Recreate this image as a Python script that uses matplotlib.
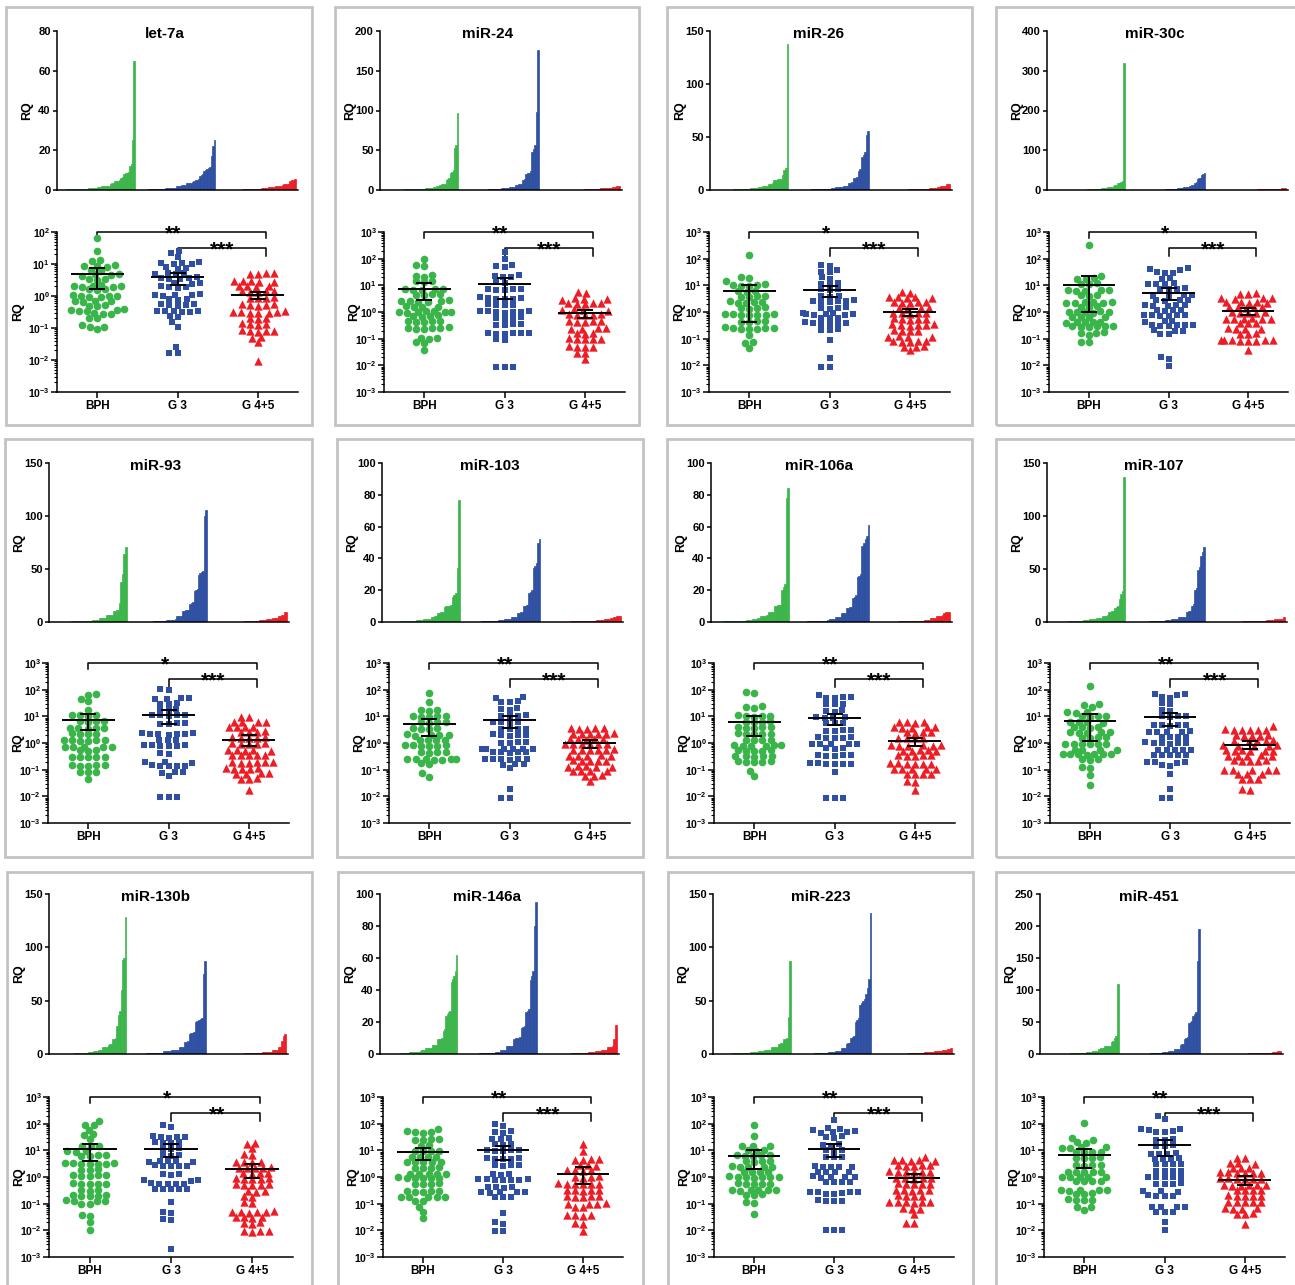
import numpy as np
import matplotlib
matplotlib.use('Agg')
import matplotlib.pyplot as plt
import matplotlib.transforms as mtransforms
from matplotlib.patches import Rectangle
from matplotlib.ticker import LogLocator, FixedLocator, NullFormatter, FuncFormatter, MultipleLocator

plt.rcParams.update({
    'font.family': 'Liberation Sans',
    'font.weight': 'bold',
    'mathtext.fontset': 'custom',
    'mathtext.rm': 'Liberation Sans:bold',
    'mathtext.it': 'Liberation Sans:bold',
    'mathtext.bf': 'Liberation Sans:bold',
    'axes.linewidth': 1.1,
})

# ── groups ────────────────────────────────────────────────────────────────────
groups = ['BPH', 'G 3', 'G 4+5']
colors = ['#3AB54A', '#2E4FA2', '#EE1C25']
markers = ['o', 's', '^']
msizes = [5.5, 5.0, 6.0]

# ── RQ values per miRNA and group ────────────────────────────────────────────
let7a_bph = [65, 25, 13, 12, 9.2, 8.8, 8.4, 8.0, 6.5, 6.1, 4.9, 4.7, 4.5, 4.3, 3.5, 3.4, 3.2,
             2.2, 2.1, 2.1, 2.0, 1.9, 1.9, 1.7, 1.6, 1.5, 1.05, 1.0, 1.0, 0.97, 0.95, 0.92,
             0.72, 0.70, 0.68, 0.66, 0.52, 0.50, 0.48, 0.38, 0.37, 0.36, 0.35, 0.34, 0.29,
             0.28, 0.27, 0.21, 0.20, 0.12, 0.11, 0.11, 0.09]
let7a_g3 = [25, 22, 17, 11.5, 11, 10.5, 10.2, 9.8, 7.8, 7.5, 7.2, 5.3, 5.1, 4.9, 4.7, 3.8, 3.7,
            3.6, 3.5, 3.4, 2.6, 2.5, 2.4, 2.0, 1.9, 1.9, 1.8, 1.15, 1.1, 1.1, 1.05, 1.0, 0.8,
            0.78, 0.75, 0.56, 0.55, 0.54, 0.52, 0.5, 0.35, 0.34, 0.33, 0.33, 0.32, 0.31, 0.24,
            0.22, 0.15, 0.11, 0.025, 0.017, 0.017]
let7a_g45 = [5.3, 5.1, 4.9, 4.7, 3.0, 2.9, 2.9, 2.8, 2.7, 2.1, 2.0, 2.0, 1.9, 1.45, 1.4, 1.4,
             1.35, 1.3, 0.9, 0.88, 0.86, 0.84, 0.56, 0.55, 0.54, 0.52, 0.5, 0.33, 0.32, 0.31,
             0.31, 0.3, 0.3, 0.29, 0.21, 0.2, 0.19, 0.14, 0.13, 0.13, 0.12, 0.085, 0.082, 0.08,
             0.078, 0.075, 0.052, 0.048, 0.036, 0.0095]

mir24_bph = [97, 57, 53, 25, 23, 21, 15, 14, 13, 7.5, 7.2, 7.0, 6.8, 6.6, 4.8, 4.6, 4.4, 4.2,
             2.7, 2.6, 2.5, 2.5, 2.4, 2.3, 1.7, 1.6, 1.6, 1.5, 1.08, 1.05, 1.02, 1.0, 0.98, 0.96,
             0.93, 0.74, 0.71, 0.69, 0.66, 0.48, 0.46, 0.45, 0.44, 0.42, 0.27, 0.26, 0.25, 0.25,
             0.24, 0.23, 0.11, 0.105, 0.1, 0.072, 0.068, 0.039]
mir24_g3 = [176, 98, 57, 52, 48, 24, 22, 21, 20, 13.5, 12.5, 7.5, 7.2, 7.0, 6.8, 6.5, 3.5, 3.4,
            3.3, 3.2, 3.1, 3.0, 2.0, 1.9, 1.9, 1.8, 1.1, 1.08, 1.05, 1.03, 1.0, 0.98, 0.95, 0.63,
            0.61, 0.59, 0.57, 0.36, 0.35, 0.33, 0.32, 0.17, 0.165, 0.16, 0.16, 0.155, 0.15,
            0.095, 0.088, 0.009, 0.009, 0.009]
mir24_g45 = [5.5, 5.0, 3.3, 3.2, 3.0, 2.9, 2.2, 2.1, 2.1, 2.0, 2.0, 1.25, 1.2, 1.15, 1.1, 0.84,
             0.82, 0.8, 0.78, 0.76, 0.47, 0.46, 0.45, 0.44, 0.43, 0.26, 0.25, 0.24, 0.23, 0.17,
             0.16, 0.155, 0.105, 0.1, 0.1, 0.098, 0.095, 0.052, 0.05, 0.049, 0.048, 0.03, 0.028,
             0.017]

mir26_bph = [138, 21, 19, 14, 10.8, 10.4, 10.0, 9.7, 9.4, 6.3, 6.0, 5.8, 4.1, 4.0, 3.8, 3.7,
             2.5, 2.4, 2.3, 2.2, 2.1, 1.5, 1.45, 1.4, 1.35, 0.86, 0.84, 0.82, 0.8, 0.78, 0.76,
             0.74, 0.48, 0.46, 0.44, 0.42, 0.27, 0.26, 0.26, 0.25, 0.24, 0.24, 0.23, 0.14,
             0.072, 0.068, 0.045]
mir26_g3 = [56, 52, 36, 33, 31, 20, 18, 12, 11.5, 11, 7.3, 7.0, 6.7, 4.0, 3.9, 3.8, 2.7, 2.6,
            2.5, 2.5, 2.4, 2.3, 1.5, 1.45, 1.4, 1.35, 0.9, 0.88, 0.86, 0.84, 0.82, 0.8, 0.78,
            0.62, 0.6, 0.58, 0.41, 0.4, 0.39, 0.38, 0.37, 0.36, 0.23, 0.22, 0.21, 0.087, 0.019,
            0.009, 0.009]
mir26_g45 = [5.8, 5.3, 3.7, 3.6, 3.5, 3.4, 3.3, 2.4, 2.35, 2.3, 2.25, 2.2, 1.45, 1.4, 1.4, 1.35,
             0.93, 0.92, 0.9, 0.88, 0.86, 0.58, 0.56, 0.55, 0.54, 0.52, 0.35, 0.34, 0.33, 0.33,
             0.32, 0.31, 0.21, 0.2, 0.2, 0.19, 0.125, 0.12, 0.12, 0.115, 0.084, 0.082, 0.08,
             0.078, 0.076, 0.053, 0.05, 0.049, 0.036]

mir30c_bph = [320, 22, 19, 18, 17, 12, 11.5, 11, 6.8, 6.6, 6.5, 6.3, 6.2, 4.3, 4.2, 4.1, 2.4,
              2.35, 2.3, 2.25, 2.2, 2.2, 1.65, 1.6, 1.55, 1.05, 1.02, 1.0, 0.98, 0.96, 0.95,
              0.67, 0.66, 0.64, 0.63, 0.44, 0.43, 0.42, 0.41, 0.4, 0.3, 0.3, 0.29, 0.29, 0.28,
              0.28, 0.18, 0.17, 0.165, 0.135, 0.078, 0.074]
mir30c_g3 = [43, 41, 38, 31, 30, 28, 19, 17, 12, 11.5, 11.2, 11, 7.8, 7.6, 7.4, 7.2, 4.3, 4.2,
             4.1, 4.0, 2.8, 2.75, 2.7, 2.6, 1.85, 1.8, 1.8, 1.75, 1.7, 1.2, 1.15, 1.15, 1.1,
             0.78, 0.76, 0.75, 0.74, 0.73, 0.72, 0.46, 0.45, 0.44, 0.33, 0.33, 0.32, 0.32, 0.31,
             0.3, 0.21, 0.2, 0.19, 0.155, 0.145, 0.02, 0.018, 0.0095]
mir30c_g45 = [5.1, 4.9, 4.7, 3.4, 3.3, 3.3, 3.2, 2.4, 2.35, 2.3, 2.25, 2.2, 1.55, 1.52, 1.5, 1.48,
              1.45, 0.98, 0.96, 0.95, 0.94, 0.92, 0.58, 0.57, 0.56, 0.55, 0.55, 0.54, 0.4, 0.39,
              0.38, 0.25, 0.24, 0.24, 0.23, 0.16, 0.155, 0.15, 0.09, 0.089, 0.088, 0.087, 0.086,
              0.085, 0.084, 0.083, 0.036]

mir93_bph = [71, 64, 45, 38, 18, 11.5, 11, 10.8, 10.5, 6.9, 6.7, 6.5, 6.3, 3.8, 3.7, 3.6, 3.5,
             3.4, 2.3, 2.2, 2.2, 2.1, 1.32, 1.3, 1.27, 1.25, 1.22, 1.2, 0.72, 0.71, 0.7, 0.69,
             0.68, 0.55, 0.53, 0.51, 0.31, 0.3, 0.3, 0.29, 0.29, 0.15, 0.148, 0.145, 0.142, 0.14,
             0.083, 0.081, 0.079, 0.046]
mir93_g3 = [106, 100, 48, 47, 46, 44, 31, 30, 29, 19, 18, 17, 11.5, 11.2, 11, 10.8, 10.5, 5.5,
            5.4, 5.3, 5.2, 2.4, 2.3, 2.25, 2.2, 2.15, 2.1, 2.05, 1.35, 1.3, 1.25, 0.85, 0.83,
            0.82, 0.8, 0.79, 0.78, 0.41, 0.4, 0.2, 0.19, 0.18, 0.145, 0.142, 0.14, 0.138, 0.135,
            0.084, 0.081, 0.078, 0.06, 0.0095, 0.0095, 0.0095]
mir93_g45 = [9.8, 9.2, 6.4, 6.2, 6.1, 6.0, 4.1, 4.0, 3.95, 3.9, 2.7, 2.65, 2.6, 2.55, 1.65, 1.62,
             1.6, 1.58, 1.55, 0.98, 0.96, 0.95, 0.94, 0.92, 0.55, 0.54, 0.53, 0.52, 0.51, 0.36,
             0.355, 0.35, 0.345, 0.34, 0.2, 0.195, 0.19, 0.19, 0.185, 0.18, 0.115, 0.112, 0.11,
             0.108, 0.105, 0.074, 0.072, 0.07, 0.068, 0.048, 0.046, 0.045, 0.018]

mir103_bph = [77, 34, 18, 17, 16, 10.5, 10.2, 10, 9.8, 9.5, 6.2, 6.1, 5.9, 5.8, 3.6, 3.5, 3.45,
              3.4, 2.1, 2.05, 2.0, 1.95, 1.9, 1.35, 1.32, 1.28, 1.25, 0.83, 0.82, 0.81, 0.8,
              0.79, 0.78, 0.47, 0.46, 0.45, 0.44, 0.26, 0.26, 0.25, 0.25, 0.25, 0.24, 0.24, 0.175,
              0.165, 0.072, 0.055]
mir103_g3 = [52, 50, 37, 35, 34, 20, 19, 18, 11, 10.7, 10.3, 10, 6.2, 6.0, 5.9, 5.8, 3.4, 3.35,
             3.3, 3.25, 2.1, 2.05, 2.0, 1.95, 1.9, 1.1, 1.07, 1.03, 1.0, 0.62, 0.61, 0.6, 0.6,
             0.59, 0.58, 0.46, 0.455, 0.45, 0.445, 0.44, 0.26, 0.255, 0.25, 0.25, 0.245, 0.24,
             0.165, 0.16, 0.155, 0.115, 0.019, 0.009, 0.009]
mir103_g45 = [3.8, 3.6, 3.5, 3.4, 3.3, 2.3, 2.25, 2.2, 2.2, 2.15, 2.1, 1.45, 1.42, 1.4, 1.38,
              1.35, 0.93, 0.92, 0.91, 0.9, 0.89, 0.88, 0.58, 0.57, 0.56, 0.56, 0.55, 0.54, 0.34,
              0.335, 0.33, 0.325, 0.32, 0.225, 0.22, 0.22, 0.215, 0.21, 0.135, 0.132, 0.13,
              0.128, 0.125, 0.092, 0.09, 0.089, 0.088, 0.062, 0.06, 0.058, 0.039]

mir106a_bph = [84, 78, 24, 22, 20, 11, 10.7, 10.4, 10.1, 9.8, 6.6, 6.4, 6.2, 6.0, 4.1, 4.0, 3.9,
               3.8, 3.7, 2.3, 2.25, 2.2, 2.15, 2.1, 1.35, 1.32, 1.28, 1.25, 0.83, 0.82, 0.81,
               0.8, 0.79, 0.78, 0.54, 0.53, 0.52, 0.51, 0.5, 0.33, 0.325, 0.32, 0.315, 0.31,
               0.21, 0.205, 0.2, 0.195, 0.19, 0.09, 0.06]
mir106a_g3 = [61, 54, 52, 50, 48, 30, 29, 28, 17, 16, 15, 9.5, 9.2, 8.9, 8.6, 5.8, 5.6, 5.4,
              3.0, 2.95, 2.9, 2.85, 1.65, 1.62, 1.6, 1.58, 1.55, 0.93, 0.92, 0.9, 0.89, 0.88,
              0.65, 0.63, 0.61, 0.35, 0.345, 0.34, 0.335, 0.33, 0.175, 0.172, 0.17, 0.168, 0.165,
              0.162, 0.083, 0.009, 0.009, 0.009]
mir106a_g45 = [6.4, 6.2, 6.0, 5.8, 4.1, 4.0, 3.9, 3.8, 3.7, 2.6, 2.55, 2.5, 2.45, 1.55, 1.52, 1.5,
               1.48, 0.83, 0.82, 0.81, 0.8, 0.79, 0.78, 0.54, 0.53, 0.52, 0.51, 0.5, 0.35, 0.345,
               0.34, 0.335, 0.33, 0.175, 0.172, 0.17, 0.168, 0.165, 0.162, 0.108, 0.106, 0.105,
               0.104, 0.102, 0.071, 0.07, 0.069, 0.067, 0.036, 0.034, 0.018]

mir107_bph = [137, 29, 26, 22, 15, 14, 13.5, 10.5, 10.2, 9.9, 9.6, 6.2, 6.1, 5.9, 5.8, 4.0, 3.95,
              3.9, 3.8, 2.6, 2.55, 2.5, 2.45, 2.4, 1.65, 1.62, 1.58, 1.55, 0.93, 0.92, 0.91, 0.9,
              0.89, 0.88, 0.57, 0.56, 0.55, 0.54, 0.4, 0.4, 0.39, 0.39, 0.38, 0.38, 0.37, 0.26,
              0.25, 0.24, 0.125, 0.118, 0.063, 0.027]
mir107_g3 = [71, 66, 62, 52, 49, 32, 30, 17, 15.5, 10.5, 10.2, 9.9, 9.6, 4.9, 4.8, 4.7, 4.6, 4.5,
             2.7, 2.65, 2.6, 2.55, 2.5, 1.75, 1.72, 1.68, 1.65, 1.05, 1.03, 1.01, 0.99, 0.97,
             0.95, 0.57, 0.56, 0.55, 0.54, 0.53, 0.37, 0.365, 0.36, 0.355, 0.35, 0.2, 0.195,
             0.19, 0.185, 0.145, 0.14, 0.069, 0.019, 0.009, 0.009]
mir107_g45 = [4.3, 3.3, 3.2, 3.15, 3.1, 3.05, 3.0, 2.0, 1.95, 1.9, 1.85, 1.8, 1.25, 1.22, 1.2,
              1.18, 1.15, 0.83, 0.82, 0.8, 0.78, 0.77, 0.54, 0.53, 0.52, 0.52, 0.51, 0.5, 0.34,
              0.335, 0.33, 0.325, 0.32, 0.23, 0.225, 0.22, 0.215, 0.21, 0.1, 0.099, 0.098, 0.097,
              0.096, 0.07, 0.069, 0.068, 0.046, 0.045, 0.044, 0.019, 0.018]

mir130b_bph = [128, 90, 88, 60, 40, 37, 26, 15, 14.5, 14, 9.5, 9.2, 8.9, 6.8, 6.6, 6.4, 6.2, 3.4,
               3.35, 3.3, 3.2, 3.15, 3.1, 3.0, 1.95, 1.9, 1.85, 1.2, 1.17, 1.15, 1.13, 1.1, 0.58,
               0.57, 0.56, 0.55, 0.54, 0.33, 0.32, 0.31, 0.21, 0.205, 0.2, 0.195, 0.19, 0.135,
               0.13, 0.128, 0.125, 0.1, 0.098, 0.037, 0.035, 0.02, 0.01]
mir130b_g3 = [87, 75, 34, 33, 32, 31, 30, 21, 20, 19.5, 19, 12, 11.5, 11, 6.8, 6.5, 6.3, 4.1,
              4.0, 3.9, 3.8, 3.7, 2.7, 2.65, 2.6, 2.55, 2.5, 1.3, 1.26, 1.22, 0.78, 0.75, 0.72,
              0.58, 0.57, 0.56, 0.55, 0.54, 0.37, 0.365, 0.36, 0.355, 0.35, 0.12, 0.047, 0.045,
              0.027, 0.025, 0.002]
mir130b_g45 = [19, 17, 12, 7.0, 6.8, 3.7, 3.6, 3.55, 3.5, 2.3, 2.25, 2.2, 2.15, 2.1, 1.45, 1.42,
               1.38, 1.35, 0.9, 0.88, 0.87, 0.86, 0.84, 0.54, 0.53, 0.52, 0.51, 0.5, 0.3, 0.29,
               0.28, 0.195, 0.185, 0.12, 0.11, 0.051, 0.05, 0.049, 0.048, 0.047, 0.046, 0.033,
               0.032, 0.031, 0.03, 0.02, 0.019, 0.018, 0.0097, 0.0095, 0.0093, 0.009]

mir146a_bph = [62, 52, 49, 47, 45, 27, 26, 25, 24, 15.5, 14.5, 9.8, 9.6, 9.4, 9.2, 5.8, 5.7, 5.5,
               5.4, 3.7, 3.65, 3.6, 3.55, 3.5, 2.3, 2.25, 2.2, 2.15, 1.35, 1.32, 1.3, 1.28, 1.25,
               0.96, 0.95, 0.94, 0.93, 0.92, 0.91, 0.58, 0.57, 0.56, 0.55, 0.3, 0.295, 0.29,
               0.285, 0.28, 0.185, 0.182, 0.18, 0.178, 0.175, 0.13, 0.122, 0.074, 0.049, 0.03]
mir146a_g3 = [95, 80, 52, 49, 46, 28, 27, 26, 17.5, 17, 16.5, 10.5, 10.2, 10, 9.8, 9.6, 5.1, 5.0,
              4.9, 4.8, 4.7, 2.8, 2.75, 2.7, 2.65, 1.3, 1.26, 1.22, 0.83, 0.82, 0.81, 0.8, 0.79,
              0.78, 0.77, 0.43, 0.42, 0.41, 0.4, 0.28, 0.275, 0.27, 0.265, 0.26, 0.185, 0.18,
              0.175, 0.045, 0.02, 0.018, 0.0095, 0.0095]
mir146a_g45 = [18, 9.5, 4.7, 4.6, 4.5, 4.4, 2.8, 2.7, 2.6, 1.85, 1.8, 1.78, 1.75, 1.05, 1.02, 0.98,
               0.95, 0.58, 0.57, 0.56, 0.55, 0.54, 0.53, 0.33, 0.325, 0.32, 0.315, 0.31, 0.195,
               0.19, 0.19, 0.185, 0.18, 0.105, 0.1, 0.1, 0.098, 0.076, 0.072, 0.037, 0.036, 0.036,
               0.035, 0.019, 0.017, 0.0095]

mir223_bph = [87, 35, 15, 14.5, 14, 10.5, 10, 9.6, 6.8, 6.6, 6.5, 6.3, 6.1, 4.1, 4.0, 3.9, 3.8,
              2.5, 2.45, 2.4, 2.35, 2.3, 1.6, 1.57, 1.53, 1.5, 1.05, 1.03, 1.01, 1.0, 0.99, 0.97,
              0.95, 0.58, 0.57, 0.56, 0.55, 0.54, 0.33, 0.325, 0.32, 0.32, 0.315, 0.31, 0.23,
              0.22, 0.21, 0.115, 0.105, 0.042]
mir223_g3 = [132, 70, 62, 56, 52, 50, 48, 46, 34, 32, 30, 17, 16, 15, 10.5, 10, 9.6, 5.8, 5.6,
             5.4, 2.5, 2.45, 2.4, 2.35, 2.3, 1.6, 1.57, 1.53, 1.5, 1.05, 1.02, 1.0, 0.98, 0.95,
             0.67, 0.66, 0.64, 0.63, 0.28, 0.275, 0.27, 0.265, 0.245, 0.24, 0.235, 0.135, 0.13,
             0.128, 0.125, 0.01, 0.01, 0.01]
mir223_g45 = [5.5, 4.4, 4.3, 4.2, 4.1, 4.0, 2.8, 2.75, 2.7, 2.65, 2.6, 1.62, 1.6, 1.57, 1.55, 1.52,
              1.5, 0.93, 0.92, 0.9, 0.88, 0.87, 0.58, 0.57, 0.56, 0.55, 0.54, 0.33, 0.325, 0.32,
              0.315, 0.31, 0.205, 0.2, 0.198, 0.195, 0.118, 0.117, 0.115, 0.114, 0.112, 0.11,
              0.067, 0.065, 0.063, 0.04, 0.019, 0.019]

mir451_bph = [109, 28, 25, 20, 19, 13, 12.8, 12.4, 12, 9.0, 8.8, 8.6, 8.4, 5.4, 5.3, 5.1, 5.0,
              2.8, 2.75, 2.7, 2.65, 1.6, 1.57, 1.55, 1.52, 1.5, 1.03, 1.01, 1.0, 0.99, 0.97,
              0.72, 0.71, 0.7, 0.69, 0.33, 0.325, 0.32, 0.315, 0.31, 0.245, 0.24, 0.235, 0.145,
              0.142, 0.14, 0.138, 0.077, 0.074, 0.057]
mir451_g3 = [195, 145, 65, 62, 60, 52, 50, 48, 26, 25, 24, 15.5, 15, 14.5, 7.8, 7.6, 7.4, 7.2,
             5.0, 4.9, 4.8, 4.7, 3.1, 3.05, 3.0, 2.95, 1.75, 1.72, 1.68, 1.65, 1.03, 1.01, 1.0,
             0.99, 0.97, 0.58, 0.57, 0.55, 0.54, 0.3, 0.29, 0.28, 0.205, 0.2, 0.2, 0.195, 0.077,
             0.076, 0.074, 0.073, 0.05, 0.049, 0.048, 0.02, 0.01]
mir451_g45 = [5.3, 5.1, 3.4, 3.3, 3.2, 2.25, 2.2, 2.15, 1.5, 1.48, 1.46, 1.44, 1.42, 1.4, 0.9,
              0.88, 0.87, 0.86, 0.85, 0.84, 0.5, 0.495, 0.49, 0.485, 0.48, 0.475, 0.33, 0.325,
              0.32, 0.315, 0.205, 0.2, 0.2, 0.198, 0.195, 0.118, 0.116, 0.115, 0.114, 0.112,
              0.067, 0.066, 0.065, 0.064, 0.043, 0.042, 0.041, 0.018]

# mean with SEM range (mean, low end, high end) per group, as drawn
let7a_sem = [(4.7, 1.6, 7.7), (3.8, 2.2, 5.2), (1.1, 0.78, 1.38)]
mir24_sem = [(7.6, 2.9, 12.3), (11, 3.1, 18.7), (0.88, 0.6, 1.15)]
mir26_sem = [(6.2, 0.43, 10.5), (6.8, 3.6, 9.7), (1.0, 0.7, 1.3)]
mir30c_sem = [(10, 1.0, 22), (5.2, 2.7, 8.1), (1.1, 0.75, 1.45)]
mir93_sem = [(7.5, 3.0, 11.8), (11.5, 5.3, 16.6), (1.32, 0.75, 1.95)]
mir103_sem = [(5.2, 1.9, 8.0), (7.0, 3.5, 10), (1.0, 0.65, 1.3)]
mir106a_sem = [(6.3, 1.9, 10), (8.7, 4.7, 12.4), (1.15, 0.75, 1.6)]
mir107_sem = [(6.5, 1.2, 12.6), (9.2, 4.5, 13.3), (0.87, 0.6, 1.15)]
mir130b_sem = [(11, 3.9, 18), (11.5, 5.6, 16.7), (2.05, 0.9, 3.2)]
mir146a_sem = [(8.7, 4.5, 12.6), (10, 4.5, 14), (1.35, 0.53, 2.35)]
mir223_sem = [(6.1, 2.0, 10), (11.5, 5.6, 17.8), (0.92, 0.65, 1.3)]
mir451_sem = [(6.9, 2.2, 11), (15.5, 5.9, 25), (0.75, 0.49, 1.05)]

# significance: (BPH vs G4+5, G3 vs G4+5)
let7a_sig = ('**', '***')
mir24_sig = ('**', '***')
mir26_sig = ('*', '***')
mir30c_sig = ('*', '***')
mir93_sig = ('*', '***')
mir103_sig = ('**', '***')
mir106a_sig = ('**', '***')
mir107_sig = ('**', '***')
mir130b_sig = ('*', '**')
mir146a_sig = ('**', '***')
mir223_sig = ('**', '***')
mir451_sig = ('**', '***')

# ── layout (pixels) ──────────────────────────────────────────────────────────
W, H = 1295, 1285
ROWS = [
    dict(box=(7, 425), bar=(31, 190), sc=(232, 392), title=38),
    dict(box=(439, 857), bar=(463, 622), sc=(663, 823), title=470),
    dict(box=(872, 1300), bar=(894, 1054), sc=(1097, 1257), title=901),
]

# name, data, sem, sig, bar ymax, bar step, top decade, row, box x, bar x, scatter x
panels = [
    ('let-7a', (let7a_bph, let7a_g3, let7a_g45), let7a_sem, let7a_sig, 80, 20, 2, 0,
     (6, 312), (57, 298), (57, 298)),
    ('miR-24', (mir24_bph, mir24_g3, mir24_g45), mir24_sem, mir24_sig, 200, 50, 3, 0,
     (335, 639), (380, 622), (384, 625)),
    ('miR-26', (mir26_bph, mir26_g3, mir26_g45), mir26_sem, mir26_sig, 150, 50, 3, 0,
     (667, 972), (710, 952), (709, 950)),
    ('miR-30c', (mir30c_bph, mir30c_g3, mir30c_g45), mir30c_sem, mir30c_sig, 400, 100, 3, 0,
     (996, 1310), (1047, 1288), (1049, 1288)),
    ('miR-93', (mir93_bph, mir93_g3, mir93_g45), mir93_sem, mir93_sig, 150, 50, 3, 1,
     (5, 312), (49, 289), (48, 289)),
    ('miR-103', (mir103_bph, mir103_g3, mir103_g45), mir103_sem, mir103_sig, 100, 20, 3, 1,
     (337, 643), (382, 623), (389, 630)),
    ('miR-106a', (mir106a_bph, mir106a_g3, mir106a_g45), mir106a_sem, mir106a_sig, 100, 20, 3, 1,
     (667, 972), (711, 952), (714, 955)),
    ('miR-107', (mir107_bph, mir107_g3, mir107_g45), mir107_sem, mir107_sig, 150, 50, 3, 1,
     (996, 1310), (1047, 1287), (1050, 1290)),
    ('miR-130b', (mir130b_bph, mir130b_g3, mir130b_g45), mir130b_sem, mir130b_sig, 150, 50, 3, 2,
     (7, 312), (49, 288), (49, 293)),
    ('miR-146a', (mir146a_bph, mir146a_g3, mir146a_g45), mir146a_sem, mir146a_sig, 100, 20, 3, 2,
     (338, 643), (380, 619), (383, 623)),
    ('miR-223', (mir223_bph, mir223_g3, mir223_g45), mir223_sem, mir223_sig, 150, 50, 3, 2,
     (668, 973), (713, 954), (714, 954)),
    ('miR-451', (mir451_bph, mir451_g3, mir451_g45), mir451_sem, mir451_sig, 250, 50, 3, 2,
     (996, 1310), (1040, 1283), (1044, 1285)),
]

fig = plt.figure(figsize=(W / 100, H / 100), dpi=100)


def px_axes(l, t, r, b):
    return fig.add_axes([l / W, 1 - b / H, (r - l) / W, (b - t) / H])


def swarm(vals, px_x, px_y, dx=8.2, dy=5.5, maxw=27.0):
    """beeswarm offsets (category units); points may overlap a bit vertically,
    so neighbouring values interleave like GraphPad's column scatter.
    Width is capped at +-maxw pixels."""
    y = np.log10(vals) * px_y
    order = np.argsort(y)
    xs = np.zeros(len(vals))
    px, py = [], []
    grid = np.linspace(-maxw, maxw, 29)
    for i in order:
        iv = []
        for xj, yj in zip(px, py):
            d = abs(y[i] - yj) / dy
            if d < 1:
                h = dx * np.sqrt(1 - d * d)
                iv.append((xj - h, xj + h))
        cands = sorted([0.0] + [a for a, b in iv] + [b for a, b in iv], key=abs)
        best = None
        for c in cands:
            if abs(c) <= maxw and all(not (a + 1e-6 < c < b - 1e-6) for a, b in iv):
                best = c
                break
        if best is None:
            # no free spot inside the column: take the least crowded one
            cost = [sum(max(0.0, min(b - c, c - a)) for a, b in iv) for c in grid]
            best = grid[int(np.argmin(cost))]
        xs[i] = best
        px.append(best)
        py.append(y[i])
    return xs / px_x


for (name, data, sem, sig, ymax, ystep, topdec, r, boxx, barx, scx) in panels:
    row = ROWS[r]

    # panel frame
    fig.patches.append(Rectangle((boxx[0] / W, 1 - row['box'][1] / H),
                                 (boxx[1] - boxx[0]) / W, (row['box'][1] - row['box'][0]) / H,
                                 transform=fig.transFigure, fill=False,
                                 edgecolor='#C3C3C3', lw=2.0))

    # ── sorted RQ bars ──
    ax = px_axes(barx[0], row['bar'][0], barx[1], row['bar'][1])
    for g, vals in enumerate(data):
        v = np.sort(vals)
        n = len(v)
        w = 0.97 / n
        ax.bar(g + np.arange(n) * w, v, width=w, align='edge', color=colors[g],
               edgecolor=colors[g], lw=0.5)
    ax.set_xlim(0, 3)
    ax.set_ylim(0, ymax)
    ax.yaxis.set_major_locator(MultipleLocator(ystep))
    ax.set_xticks([])
    for s in ('top', 'right'):
        ax.spines[s].set_visible(False)
    ax.tick_params(axis='y', length=3, width=1.1, pad=1.5, labelsize=8)
    fig.text((barx[0] - 30) / W, 1 - (row['bar'][0] + row['bar'][1]) / 2 / H, 'RQ',
             rotation=90, ha='center', va='center', fontsize=9)
    fig.text(((barx[0] + barx[1]) / 2 - 13) / W, 1 - row['title'] / H, name,
             ha='center', va='baseline', fontsize=11)

    # ── dot plot ──
    ax2 = px_axes(scx[0], row['sc'][0], scx[1], row['sc'][1])
    ax2.set_yscale('log')
    ax2.set_ylim(1e-3, 10 ** topdec)
    ax2.set_xlim(-0.5, 2.5)
    px_x = (scx[1] - scx[0]) / 3.0
    px_y = (row['sc'][1] - row['sc'][0]) / (topdec + 3.0)
    for g, vals in enumerate(data):
        vals = np.asarray(vals, float)
        x = g + swarm(vals, px_x, px_y)
        ax2.scatter(x, vals, marker=markers[g], s=msizes[g] ** 2, color=colors[g],
                    linewidths=0, zorder=3, clip_on=False)
        m, lo, hi = sem[g]
        ax2.hlines(m, g - 0.33, g + 0.33, color='k', lw=1.4, zorder=4)
        ax2.errorbar(g, m, yerr=[[m - lo], [hi - m]], fmt='none', ecolor='k',
                     elinewidth=1.4, capsize=5.5, capthick=1.4, zorder=4)
    ax2.yaxis.set_major_locator(FixedLocator([10.0 ** k for k in range(-3, topdec + 1)]))
    ax2.yaxis.set_major_formatter(FuncFormatter(lambda v, _: r'$10^{%d}$' % round(np.log10(v))))
    ax2.yaxis.set_minor_locator(LogLocator(base=10, subs=np.arange(2, 10), numticks=20))
    ax2.yaxis.set_minor_formatter(NullFormatter())
    ax2.tick_params(axis='y', which='major', length=4, width=1.1, pad=1, labelsize=7.5)
    ax2.tick_params(axis='y', which='minor', length=2, width=0.8)
    ax2.set_xticks([0, 1, 2])
    ax2.set_xticklabels(groups, fontsize=8.5)
    ax2.tick_params(axis='x', length=4, width=1.1, pad=2)
    for s in ('top', 'right'):
        ax2.spines[s].set_visible(False)
    rq_off = 39 if name == 'let-7a' else 30
    fig.text((scx[0] - rq_off) / W, 1 - (row['sc'][0] + row['sc'][1]) / 2 / H, 'RQ',
             rotation=90, ha='center', va='center', fontsize=9)

    # significance brackets
    tr = mtransforms.blended_transform_factory(ax2.transData, ax2.transAxes)
    ax2.plot([0, 0, 2.1, 2.1], [0.96, 1.0, 1.0, 0.96], transform=tr, color='k', lw=1.1,
             clip_on=False)
    ax2.plot([1, 1, 2.1, 2.1], [0.85, 0.9, 0.9, 0.85], transform=tr, color='k', lw=1.1,
             clip_on=False)
    ax2.text(0.95, 1.0 - 0.044, sig[0], transform=tr, ha='center', va='baseline', fontsize=15)
    ax2.text(1.56, 0.9 - 0.044, sig[1], transform=tr, ha='center', va='baseline', fontsize=15)

fig.savefig('out.png', dpi=100)
